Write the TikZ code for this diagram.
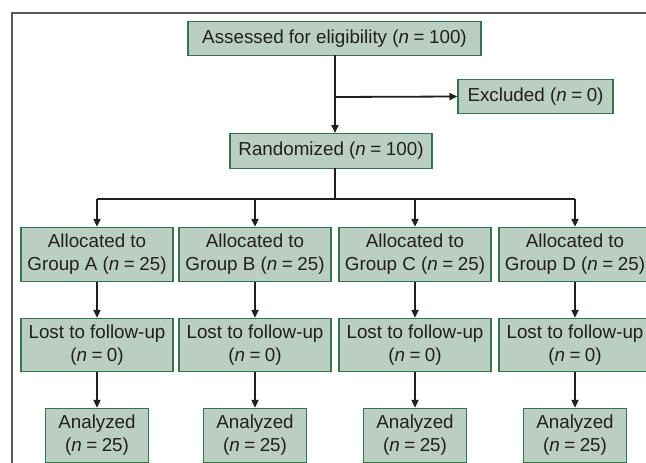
\documentclass[tikz,border=0pt]{standalone}
\usepackage{fontspec}
\setmainfont{Liberation Sans}
\usetikzlibrary{arrows.meta}
\definecolor{boxfill}{RGB}{186,206,193}
\definecolor{boxline}{RGB}{50,118,78}
\definecolor{ink}{RGB}{35,31,32}
\definecolor{framec}{RGB}{90,90,90}
\newcommand{\nn}[1]{(\textit{n}\hspace{0.24em}=\hspace{0.24em}#1)}
\begin{document}
\begin{tikzpicture}[x=1pt,y=-1pt,
  flowbox/.style={draw=boxline,fill=boxfill,line width=1.3pt,text=ink,align=center,
    inner sep=0pt,font=\fontsize{18.8}{23}\selectfont},
  conn/.style={draw=ink,line width=1.8pt},
  arr/.style={conn,-{Triangle[length=8pt,width=7pt]}}]
\useasboundingbox (0,0) rectangle (646,463);
\begin{scope}
\clip (0,0) rectangle (646,463);
\draw[framec,line width=1.4pt] (12,470) -- (12,13) -- (660,13);
\node[flowbox,minimum width=293pt,minimum height=34pt] (assess) at (334.5,38.5) {Assessed for eligibility \nn{100}};
\node[flowbox,minimum width=155pt,minimum height=34pt] (excl) at (535.5,96.5) {Excluded \nn{0}};
\node[flowbox,minimum width=202pt,minimum height=35pt] (rand) at (331,151) {Randomized \nn{100}};
\foreach \g/\x in {A/97,B/255,C/415,D/575}{
  \node[flowbox,minimum width=152pt,minimum height=54pt] (grp\g) at (\x,254.5) {Allocated to\\Group \g{} \nn{25}};
  \node[flowbox,minimum width=152pt,minimum height=53pt] (lost\g) at (\x,345) {Lost to follow-up\\\nn{0}};
  \node[flowbox,minimum width=103pt,minimum height=54pt] (ana\g) at (\x,435.5) {Analyzed\\\nn{25}};
  \draw[arr] (grp\g) -- (lost\g);
  \draw[arr] (lost\g) -- (ana\g);
}
\coordinate (split) at (335,97);
\coordinate (bus) at (335,199);
\draw[arr] (335,55) -- (335,133);
\draw[arr] (split) -- (excl.west);
\draw[conn] (335,168) -- (bus);
\draw[conn] (grpA.north |- bus) -- (grpD.north |- bus);
\foreach \g in {A,B,C,D}{
  \draw[arr] (grp\g.north |- bus) -- (grp\g.north);
}
\end{scope}
\end{tikzpicture}
\end{document}
